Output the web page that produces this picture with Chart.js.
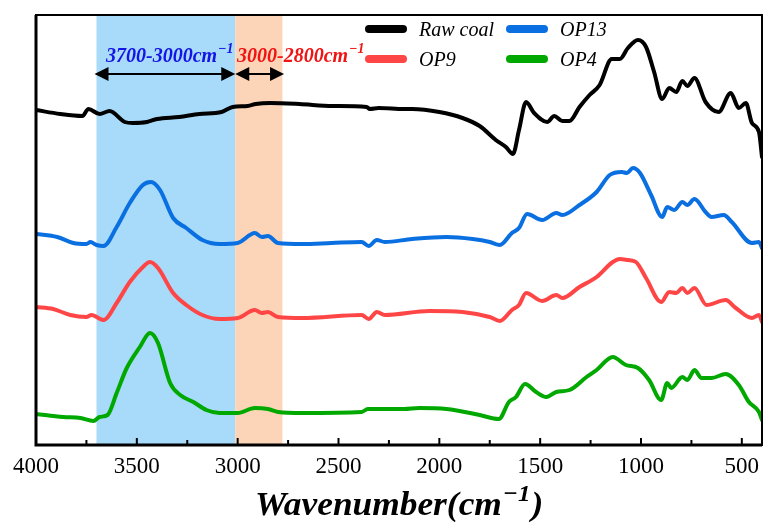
<!DOCTYPE html>
<html>
<head>
<meta charset="utf-8">
<script src="https://cdn.jsdelivr.net/npm/chart.js@4.4.0/dist/chart.umd.min.js"></script>
<style>
  html, body { margin: 0; padding: 0; background: #fff; }
  #wrap { width: 763px; height: 526px; }
</style>
</head>
<body>
<div id="wrap"><canvas id="ftirChart" width="763" height="526"></canvas></div>
<script>
// spectra (wavenumber in cm-1, intensity in arbitrary units, curves offset)
const rawCoalWave = [4000,3880,3770,3740,3685,3635,3560,3520,3450,3400,3290,3190,3080,3025,2950,2910,2840,2695,2530,2360,2345,2300,2175,2135,2000,1885,1800,1720,1670,1635,1605,1570,1530,1465,1430,1390,1355,1305,1255,1205,1145,1105,1065,1015,975,935,895,860,825,795,770,735,680,615,555,515,480,450,415,400];
const rawCoalAbs  = [335,331,329,336,331,334,323,322,323,326,328,331,333,338,339,341,342,341,339,338,336,337,336,336,333,327,319,305,298,291,315,343,332,323,329,324,324,338,350,360,386,386,397,405,398,373,346,357,353,364,359,367,343,333,352,337,342,322,313,288];

const op13Wave = [4000,3895,3815,3750,3730,3700,3665,3600,3535,3470,3430,3385,3320,3255,3175,3090,3000,2915,2880,2850,2800,2680,2535,2385,2350,2310,2270,2135,1965,1835,1750,1700,1640,1605,1565,1490,1420,1390,1305,1220,1155,1095,1070,1040,1005,950,895,870,835,795,770,735,680,650,590,550,450,415,400];
const op13Abs  = [211,208,202,201,203,200,199,218,242,260,263,255,227,217,205,201,202,212,208,209,202,201,202,203,199,205,203,206,208,206,203,200,212,217,231,225,232,230,240,253,270,273,272,277,272,250,228,238,235,243,240,246,233,228,230,223,202,203,197];

const op9Wave = [4000,3915,3830,3750,3725,3665,3600,3535,3470,3435,3395,3320,3255,3175,3090,3000,2915,2880,2850,2800,2680,2385,2350,2310,2270,2050,1885,1750,1700,1640,1605,1570,1490,1420,1390,1305,1220,1140,1105,1065,1025,975,900,860,825,795,770,735,675,580,530,450,415,400];
const op9Abs  = [138,136,130,128,130,125,142,163,178,183,177,152,140,130,126,127,135,132,133,128,127,130,126,133,130,134,133,128,124,135,140,152,144,150,147,158,168,183,186,185,183,167,143,153,152,157,152,157,140,145,137,127,130,123];

const op4Wave = [4000,3865,3780,3715,3685,3645,3600,3550,3485,3435,3395,3335,3285,3220,3155,3090,3000,2915,2850,2800,2680,2385,2355,2175,2100,1965,1800,1705,1655,1620,1575,1520,1470,1420,1355,1270,1220,1140,1075,1015,960,900,870,850,795,770,735,700,650,580,515,465,415,400];
const op4Abs  = [31,28,27,24,28,30,52,77,98,112,102,62,50,43,35,32,32,37,36,33,32,33,36,36,37,36,30,26,43,48,61,53,48,53,55,68,75,88,80,77,65,45,62,57,68,65,75,67,67,71,60,43,33,25];

const seriesNames = ['Raw coal', 'OP9', 'OP13', 'OP4'];
const tickValues = [500, 1000, 1500, 2000, 2500, 3000, 3500, 4000];
const minorTickValues = [750, 1250, 1750, 2250, 2750, 3250, 3750];

// highlighted bands: [from, to]
const ohBand = [3700, 3012];
const chBand = [3012, 2778];

const toPoints = (xs, ys) => xs.map((x, i) => ({ x: x, y: ys[i] }));

const colors = {
  'Raw coal': '#000000',
  'OP9': '#ff4646',
  'OP13': '#0a6fe0',
  'OP4': '#00a800'
};

const SERIF = 'Liberation Serif, Times New Roman, serif';

// draws bands, frame, ticks, arrows, labels, legend and axis title
const ftirDecor = {
  id: 'ftirDecor',
  beforeDatasetsDraw(chart) {
    const { ctx, chartArea: a, scales: { x } } = chart;
    ctx.save();
    ctx.fillStyle = '#a8dafa';
    ctx.fillRect(x.getPixelForValue(ohBand[0]), a.top, x.getPixelForValue(ohBand[1]) - x.getPixelForValue(ohBand[0]), a.bottom - a.top);
    ctx.fillStyle = '#fcd5b8';
    ctx.fillRect(x.getPixelForValue(chBand[0]), a.top, x.getPixelForValue(chBand[1]) - x.getPixelForValue(chBand[0]), a.bottom - a.top);
    ctx.restore();
  },
  afterDatasetsDraw(chart) {
    const { ctx, chartArea: a, scales: { x, y } } = chart;
    ctx.save();

    // frame
    ctx.strokeStyle = '#000';
    ctx.lineWidth = 2;
    ctx.strokeRect(a.left, a.top, a.right - a.left, a.bottom - a.top);
    ctx.lineWidth = 3;
    ctx.beginPath();
    ctx.moveTo(a.left, a.top);
    ctx.lineTo(a.left, a.bottom);
    ctx.lineTo(a.right, a.bottom);
    ctx.stroke();

    // inward ticks
    ctx.lineWidth = 2;
    tickValues.forEach(v => {
      const px = x.getPixelForValue(v);
      ctx.beginPath(); ctx.moveTo(px, a.bottom); ctx.lineTo(px, a.bottom - 7); ctx.stroke();
    });
    minorTickValues.forEach(v => {
      const px = x.getPixelForValue(v);
      ctx.beginPath(); ctx.moveTo(px, a.bottom); ctx.lineTo(px, a.bottom - 5); ctx.stroke();
    });

    // double arrows
    const arrow = (w1, w2, yy) => {
      const x1 = x.getPixelForValue(w1), x2 = x.getPixelForValue(w2);
      ctx.fillStyle = '#000';
      ctx.lineWidth = 2;
      ctx.beginPath(); ctx.moveTo(x1 + 6, yy); ctx.lineTo(x2 - 6, yy); ctx.stroke();
      ctx.beginPath(); ctx.moveTo(x1, yy); ctx.lineTo(x1 + 14, yy - 7); ctx.lineTo(x1 + 14, yy + 7); ctx.closePath(); ctx.fill();
      ctx.beginPath(); ctx.moveTo(x2, yy); ctx.lineTo(x2 - 14, yy - 7); ctx.lineTo(x2 - 14, yy + 7); ctx.closePath(); ctx.fill();
    };
    const arrowY = y.getPixelForValue(371);
    arrow(3710, ohBand[1], arrowY);
    arrow(ohBand[1], 2770, arrowY);

    // text with superscript, optional horizontal stretch
    const supText = (px, py, main, sup, tail, size, supSize, rise, color, style, sx) => {
      ctx.save();
      ctx.translate(px, py);
      ctx.scale(sx || 1, 1);
      ctx.fillStyle = color;
      ctx.textBaseline = 'alphabetic';
      ctx.textAlign = 'left';
      ctx.font = style + ' ' + size + 'px ' + SERIF;
      ctx.fillText(main, 0, 0);
      let cx = ctx.measureText(main).width + 1;
      ctx.font = style + ' ' + supSize + 'px ' + SERIF;
      ctx.fillText(sup, cx, -rise);
      cx += ctx.measureText(sup).width + 1;
      if (tail) {
        ctx.font = style + ' ' + size + 'px ' + SERIF;
        ctx.fillText(tail, cx, 0);
      }
      ctx.restore();
    };
    const labelY = y.getPixelForValue(383);
    supText(106, labelY, '3700-3000cm', '\u22121', '', 20, 14, 9, '#1414e6', 'italic bold');
    supText(237, labelY, '3000-2800cm', '\u22121', '', 20, 14, 9, '#f01414', 'italic bold');

    // legend (two columns)
    const legendItems = [
      { name: seriesNames[0], lx: 369, ly: 29 },
      { name: seriesNames[2], lx: 510, ly: 29 },
      { name: seriesNames[1], lx: 369, ly: 59 },
      { name: seriesNames[3], lx: 510, ly: 59 }
    ];
    legendItems.forEach(it => {
      ctx.strokeStyle = colors[it.name];
      ctx.lineWidth = 8;
      ctx.lineCap = 'round';
      ctx.beginPath(); ctx.moveTo(it.lx, it.ly); ctx.lineTo(it.lx + 34, it.ly); ctx.stroke();
      ctx.fillStyle = '#000';
      ctx.font = 'italic 20px ' + SERIF;
      ctx.textBaseline = 'alphabetic';
      ctx.fillText(it.name, it.lx + 50, it.ly + 7);
    });

    // x axis title
    supText(255, 515, 'Wavenumber(cm', '\u22121', ')', 34, 24, 14, '#000', 'italic bold', 1.04);

    ctx.restore();
  }
};

const makeSet = (name, xs, ys) => ({
  label: name,
  data: toPoints(xs, ys),
  borderColor: colors[name],
  borderWidth: 4,
  pointRadius: 0,
  fill: false,
  cubicInterpolationMode: 'monotone',
  borderJoinStyle: 'round',
  borderCapStyle: 'round'
});

const ctx = document.getElementById('ftirChart');
const ftirChart = new Chart(ctx, {
  type: 'line',
  data: {
    datasets: [
      makeSet('Raw coal', rawCoalWave, rawCoalAbs),
      makeSet('OP9', op9Wave, op9Abs),
      makeSet('OP13', op13Wave, op13Abs),
      makeSet('OP4', op4Wave, op4Abs)
    ]
  },
  options: {
    responsive: false,
    animation: false,
    layout: { padding: { left: 36, top: 15, right: 1, bottom: 0 } },
    plugins: {
      legend: { display: false },
      tooltip: { enabled: false }
    },
    scales: {
      x: {
        type: 'linear',
        reverse: true,
        min: 400,
        max: 4000,
        afterBuildTicks: s => { s.ticks = tickValues.map(v => ({ value: v })); },
        afterFit: s => { s.height = 81; },
        grid: { display: false, drawTicks: false },
        border: { display: false },
        ticks: {
          font: { family: SERIF, size: 23 },
          color: '#000',
          padding: 8,
          maxRotation: 0,
          autoSkip: false,
          callback: v => String(v)
        }
      },
      y: { display: false, min: 0, max: 430 }
    }
  },
  plugins: [ftirDecor]
});
</script>
</body>
</html>
